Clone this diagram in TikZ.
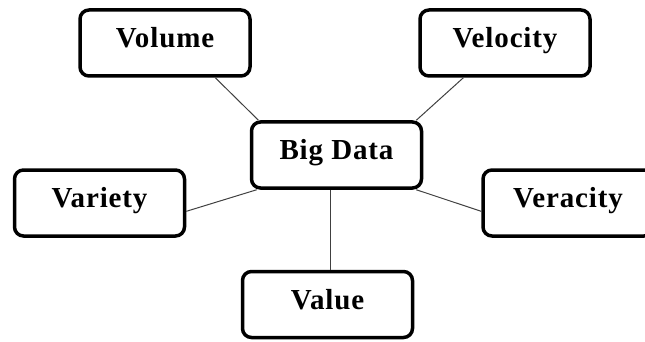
\documentclass[tikz,border=0pt]{standalone}
\usepackage{fontspec}
\setmainfont{Liberation Serif}[LetterSpace=3]
\usetikzlibrary{calc}
\begin{document}
\begin{tikzpicture}[x=1pt,y=-1pt,
  vbox/.style={draw=black, line width=3.5pt, rounded corners=9pt, fill=white,
    minimum width=170pt, minimum height=66pt, inner sep=0pt,
    font=\fontsize{29}{32}\selectfont\bfseries, text height=19pt, text depth=10pt},
  link/.style={draw=black!75, line width=1pt}]
  \useasboundingbox (0,0) rectangle (645,342);

  % outer boxes and the central box
  \node[vbox] (bd)  at (336.5,155)   {Big Data};
  \node[vbox] (vol) at (165,43)      {Volume};
  \node[vbox] (vel) at (505,43)      {Velocity};
  \node[vbox] (var) at (99.5,203)    {Variety};
  \node[vbox] (ver) at (568,203)     {Veracity};
  \node[vbox] (val) at (327.5,304.5) {Value};

  % spokes from the centre to each box
  \draw[link] ($(vol.south west)!0.79!(vol.south east)$) -- ($(bd.north west)!0.05!(bd.north east)$);
  \draw[link] ($(vel.south west)!0.26!(vel.south east)$) -- ($(bd.north west)!0.96!(bd.north east)$);
  \draw[link] ($(var.north east)!0.62!(var.south east)$) -- ($(bd.south west)!0.04!(bd.south east)$);
  \draw[link] ($(ver.north west)!0.62!(ver.south west)$) -- ($(bd.south west)!0.96!(bd.south east)$);
  \coordinate (vtop) at ($(val.north west)!0.52!(val.north east)$);
  \draw[link] (vtop) -- (vtop |- bd.south);
\end{tikzpicture}
\end{document}
